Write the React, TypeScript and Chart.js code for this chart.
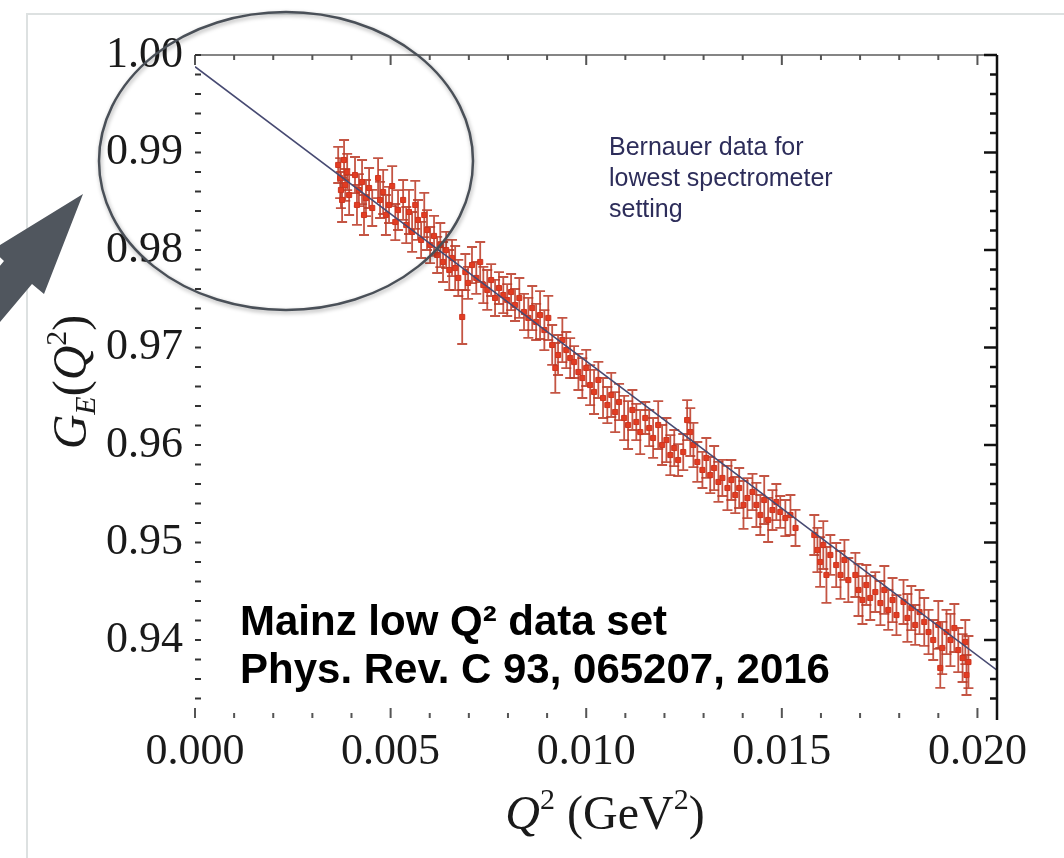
import React, { useEffect, useRef } from "react";
import { Chart, registerables } from "chart.js";

Chart.register(...registerables);

// ---------- data ----------
const Q2 = [
  0.00366, 0.00371, 0.00373, 0.00376, 0.00381, 0.00384, 0.00389, 0.00394,
  0.00409, 0.00414, 0.00419, 0.00427, 0.00432, 0.00437, 0.00445, 0.00453,
  0.00468, 0.00473, 0.00481, 0.00488, 0.00496, 0.00504, 0.00512, 0.00519,
  0.00532, 0.0054, 0.00547, 0.00555, 0.00563, 0.0057, 0.00578, 0.00586, 0.00593, 0.00601,
  0.00611, 0.00619, 0.00627, 0.00634, 0.00642, 0.0065, 0.00657, 0.00665, 0.00673, 0.00683, 0.00691, 0.00698,
  0.00708, 0.00719, 0.00729, 0.00737, 0.00747, 0.00757, 0.00767, 0.00777,
  0.00788, 0.00798, 0.00808, 0.00818, 0.00829, 0.00841, 0.00852, 0.00862, 0.00872, 0.00882, 0.00893,
  0.00903, 0.00913, 0.00921, 0.00928, 0.00939, 0.00949, 0.00959, 0.00969, 0.0098, 0.0099, 0.01, 0.0101, 0.0102, 0.01031,
  0.01043, 0.01054, 0.01064, 0.01074, 0.01084, 0.01097, 0.01107, 0.01118, 0.01128, 0.01138, 0.01151, 0.01161, 0.01171, 0.01184, 0.01194,
  0.01205, 0.01215, 0.01225, 0.01235, 0.01248, 0.01258, 0.01266, 0.01274, 0.01284,
  0.01297, 0.01307, 0.01317, 0.01327, 0.01338, 0.01348, 0.01361, 0.01371, 0.01381, 0.01391, 0.01402, 0.01412,
  0.01425, 0.01435, 0.01445, 0.01455, 0.01465, 0.01476, 0.01486, 0.01496, 0.01509, 0.01522, 0.01535,
  0.01583, 0.01591, 0.01598, 0.01606, 0.01614, 0.01624, 0.01639, 0.0165, 0.0166, 0.0167,
  0.01688, 0.01696, 0.01706, 0.01716, 0.01726, 0.01739, 0.01752, 0.01762, 0.01772, 0.01783, 0.01793,
  0.01811, 0.01821, 0.01831, 0.01841, 0.01852, 0.01864, 0.01875, 0.01887, 0.019, 0.0191,
  0.01921, 0.01931, 0.01941, 0.01951, 0.01962, 0.01969, 0.01977, 0.01905, 0.01972,
];

const GE = [
  0.98872, 0.98738, 0.98615, 0.98513, 0.98923, 0.98667, 0.988, 0.98564,
  0.98769, 0.98462, 0.98615, 0.98697, 0.98359, 0.98533, 0.98636, 0.98431,
  0.98738, 0.98513, 0.98595, 0.98359, 0.98462, 0.98656, 0.98287, 0.9841,
  0.98513, 0.98256, 0.9839, 0.98185, 0.98462, 0.98308, 0.98103, 0.98359, 0.98205, 0.98051,
  0.98144, 0.97949, 0.98051, 0.97877, 0.98, 0.97795, 0.97918, 0.97815, 0.97713, 0.97313, 0.97774, 0.97662,
  0.97846, 0.97713, 0.97877, 0.97641, 0.9759, 0.97692, 0.97508, 0.9761,
  0.97538, 0.97487, 0.97569, 0.97436, 0.97508, 0.97364, 0.97303, 0.97405, 0.97262, 0.97333, 0.97179,
  0.97303, 0.97026, 0.9679, 0.96923, 0.97077, 0.96974, 0.96892, 0.96851, 0.96749, 0.96687, 0.9679, 0.96615, 0.96544, 0.96667,
  0.96482, 0.9641, 0.96513, 0.96338, 0.96441, 0.96277, 0.96205, 0.96359, 0.96236, 0.96133, 0.96277, 0.96174, 0.96072, 0.96205, 0.96,
  0.96051, 0.95897, 0.95969, 0.95846, 0.95928, 0.96256, 0.96133, 0.96, 0.95826,
  0.95744, 0.95867, 0.95692, 0.95764, 0.95621, 0.95662, 0.95559, 0.95641, 0.95487, 0.95559, 0.95385, 0.95456,
  0.95518, 0.95385, 0.95282, 0.95436, 0.95231, 0.95333, 0.95415, 0.95313, 0.95251, 0.95282, 0.95149,
  0.95077, 0.94923, 0.948, 0.94974, 0.94667, 0.94872, 0.94769, 0.94667, 0.94821, 0.94615,
  0.94667, 0.94513, 0.9441, 0.94564, 0.94431, 0.94492, 0.94379, 0.94513, 0.94308, 0.9441, 0.94256,
  0.9439, 0.94226, 0.94328, 0.94154, 0.94287, 0.94185, 0.94082, 0.94, 0.94154, 0.93918,
  0.94082, 0.94, 0.94123, 0.93897, 0.93815, 0.93979, 0.93774, 0.93713, 0.93641,
];

const GE_ERR = [
  0.00185, 0.00205, 0.00185, 0.00226, 0.00205, 0.00164, 0.00185, 0.00205,
  0.00185, 0.00205, 0.00164, 0.00226, 0.00205, 0.00185, 0.00205, 0.00185,
  0.00205, 0.00185, 0.00226, 0.00205, 0.00185, 0.00205, 0.00185, 0.00205,
  0.00205, 0.00185, 0.00226, 0.00205, 0.00246, 0.00205, 0.00185, 0.00226, 0.00205, 0.00185,
  0.00205, 0.00185, 0.00226, 0.00205, 0.00185, 0.00205, 0.00185, 0.00226, 0.00185, 0.00277, 0.00185, 0.00164,
  0.00185, 0.00164, 0.00205, 0.00185, 0.00205, 0.00164, 0.00185, 0.00164,
  0.00185, 0.00164, 0.00185, 0.00164, 0.00205, 0.00185, 0.00205, 0.00226, 0.00185, 0.00246, 0.00205,
  0.00226, 0.00205, 0.00256, 0.00205, 0.00226, 0.00185, 0.00205, 0.00164, 0.00185, 0.00205, 0.00185, 0.00205, 0.00226, 0.00185,
  0.00205, 0.00185, 0.00226, 0.00205, 0.00185, 0.00226, 0.00246, 0.00205, 0.00185, 0.00226, 0.00164, 0.00185, 0.00205, 0.00246, 0.00205,
  0.00226, 0.00205, 0.00185, 0.00164, 0.00185, 0.00205, 0.00246, 0.00226, 0.00205,
  0.00185, 0.00205, 0.00185, 0.00226, 0.00205, 0.00185, 0.00226, 0.00205, 0.00185, 0.00205, 0.00246, 0.00205,
  0.00185, 0.00226, 0.00205, 0.00246, 0.00226, 0.00205, 0.00185, 0.00164, 0.00185, 0.00205, 0.00185,
  0.00205, 0.00226, 0.00256, 0.00246, 0.00287, 0.00205, 0.00226, 0.00246, 0.00205, 0.00226,
  0.00226, 0.00267, 0.00246, 0.00205, 0.00226, 0.00205, 0.00226, 0.00246, 0.00205, 0.00226, 0.00205,
  0.00226, 0.00246, 0.00226, 0.00205, 0.00226, 0.00246, 0.00226, 0.00205, 0.00246, 0.00267,
  0.00226, 0.00267, 0.00246, 0.00226, 0.00246, 0.00226, 0.00267, 0.00205, 0.00205,
];

const FIT_Q2 = [0, 0.005, 0.01, 0.015, 0.0205];
const FIT_GE = [0.9988, 0.9837, 0.9686, 0.9535, 0.9369];

const X_TICKS = [0, 0.005, 0.01, 0.015, 0.02];
const X_TICK_LABELS = ["0.000", "0.005", "0.010", "0.015", "0.020"];
const Y_TICKS = [0.94, 0.95, 0.96, 0.97, 0.98, 0.99, 1.0];
const Y_TICK_LABELS = ["0.94", "0.95", "0.96", "0.97", "0.98", "0.99", "1.00"];
const X_MIN = 0;
const X_MAX = 0.0205;
const Y_MIN = 0.932;
const Y_MAX = 1.0;
const X_MINOR_STEP = 0.001;
const Y_MINOR_STEP = 0.002;

const NOTE_LINES = ["Bernauer data for", "lowest spectrometer", "setting"];
const REF_LINES = ["Mainz low Q\u00B2 data set", "Phys. Rev. C 93, 065207, 2016"];

const SERIF = '"Liberation Serif", "Times New Roman", serif';
const SANS = '"Liberation Sans", Arial, sans-serif';

type Piece = { t: string; font: string; dy: number };

function drawPieces(ctx: CanvasRenderingContext2D, pieces: Piece[], x0: number, y0: number) {
  let x = x0;
  for (const p of pieces) {
    ctx.font = p.font;
    ctx.fillText(p.t, x, y0 + p.dy);
    x += ctx.measureText(p.t).width;
  }
}
function piecesWidth(ctx: CanvasRenderingContext2D, pieces: Piece[]) {
  let w = 0;
  for (const p of pieces) {
    ctx.font = p.font;
    w += ctx.measureText(p.t).width;
  }
  return w;
}

const errorBarPlugin = {
  id: "errorBars",
  beforeDatasetsDraw(chart: any) {
    const ctx = chart.ctx as CanvasRenderingContext2D;
    const ys = chart.scales.y;
    const meta = chart.getDatasetMeta(1);
    ctx.save();
    ctx.strokeStyle = "rgba(188,62,42,0.88)";
    ctx.lineWidth = 1.8;
    meta.data.forEach((el: any, i: number) => {
      const x = el.x;
      const yt = ys.getPixelForValue(GE[i] + GE_ERR[i]);
      const yb = ys.getPixelForValue(GE[i] - GE_ERR[i]);
      ctx.beginPath();
      ctx.moveTo(x, yt);
      ctx.lineTo(x, yb);
      ctx.moveTo(x - 5, yt);
      ctx.lineTo(x + 5, yt);
      ctx.moveTo(x - 5, yb);
      ctx.lineTo(x + 5, yb);
      ctx.stroke();
    });
    ctx.restore();
  },
};

const decorPlugin = {
  id: "decor",
  afterDraw(chart: any) {
    const ctx = chart.ctx as CanvasRenderingContext2D;
    const ca = chart.chartArea;
    const xs = chart.scales.x;
    const ys = chart.scales.y;
    ctx.save();

    // outer light frame
    ctx.strokeStyle = "#dde1e1";
    ctx.lineWidth = 2;
    ctx.beginPath();
    ctx.moveTo(27, 858);
    ctx.lineTo(27, 14);
    ctx.lineTo(1064, 14);
    ctx.stroke();

    // top axis line
    ctx.strokeStyle = "#858585";
    ctx.lineWidth = 2;
    ctx.beginPath();
    ctx.moveTo(ca.left, ca.top);
    ctx.lineTo(ca.right, ca.top);
    ctx.stroke();
    // right axis line
    ctx.strokeStyle = "#111";
    ctx.lineWidth = 2.5;
    ctx.beginPath();
    ctx.moveTo(ca.right, ca.top);
    ctx.lineTo(ca.right, ca.bottom + 2);
    ctx.stroke();

    // x ticks (top + bottom)
    const nx = Math.round((0.02 - X_MIN) / X_MINOR_STEP);
    for (let i = 0; i <= nx; i++) {
      const v = X_MIN + i * X_MINOR_STEP;
      const px = xs.getPixelForValue(v);
      const major = i % 5 === 0;
      const len = major ? 10 : 5;
      ctx.strokeStyle = "#555";
      ctx.lineWidth = 2;
      ctx.beginPath();
      ctx.moveTo(px, ca.top);
      ctx.lineTo(px, ca.top + len);
      ctx.moveTo(px, ca.bottom);
      ctx.lineTo(px, ca.bottom - len);
      ctx.stroke();
    }
    // y ticks (left + right)
    const k0 = Math.round(Y_MIN / Y_MINOR_STEP);
    const k1 = Math.round(Y_MAX / Y_MINOR_STEP);
    for (let k = k0 + 1; k <= k1; k++) {
      const v = k * Y_MINOR_STEP;
      const py = ys.getPixelForValue(v);
      const major = k % 5 === 0;
      ctx.strokeStyle = "#333";
      ctx.lineWidth = 2;
      ctx.beginPath();
      ctx.moveTo(ca.left, py);
      ctx.lineTo(ca.left + 6, py);
      ctx.stroke();
      ctx.strokeStyle = "#111";
      ctx.lineWidth = 2.5;
      ctx.beginPath();
      ctx.moveTo(ca.right, py);
      ctx.lineTo(ca.right - (major ? 13 : 7), py);
      ctx.stroke();
    }

    // axis titles
    ctx.fillStyle = "#1a1a1a";
    ctx.textBaseline = "alphabetic";
    ctx.textAlign = "left";
    const xt: Piece[] = [
      { t: "Q", font: `italic 48px ${SERIF}`, dy: 0 },
      { t: "2", font: `30px ${SERIF}`, dy: -20 },
      { t: " (GeV", font: `48px ${SERIF}`, dy: 0 },
      { t: "2", font: `30px ${SERIF}`, dy: -20 },
      { t: ")", font: `48px ${SERIF}`, dy: 0 },
    ];
    const xw = piecesWidth(ctx, xt);
    drawPieces(ctx, xt, 605 - xw / 2, 829);

    const yt: Piece[] = [
      { t: "G", font: `italic 48px ${SERIF}`, dy: 0 },
      { t: "E", font: `italic 30px ${SERIF}`, dy: 9 },
      { t: "(", font: `48px ${SERIF}`, dy: 0 },
      { t: "Q", font: `italic 48px ${SERIF}`, dy: 0 },
      { t: "2", font: `30px ${SERIF}`, dy: -20 },
      { t: ")", font: `48px ${SERIF}`, dy: 0 },
    ];
    const yw = piecesWidth(ctx, yt);
    ctx.save();
    ctx.translate(70, 382);
    ctx.rotate(-Math.PI / 2);
    drawPieces(ctx, yt, -yw / 2, 16);
    ctx.restore();

    // note text
    ctx.fillStyle = "#2d2d5a";
    ctx.font = `25px ${SANS}`;
    NOTE_LINES.forEach((s, i) => ctx.fillText(s, 609, 155 + i * 31));

    // reference text
    ctx.fillStyle = "#000";
    ctx.font = `bold 42px ${SANS}`;
    REF_LINES.forEach((s, i) => ctx.fillText(s, 240, 635 + i * 48));

    // ellipse annotation
    ctx.save();
    ctx.shadowColor = "rgba(0,0,0,0.35)";
    ctx.shadowBlur = 4;
    ctx.shadowOffsetX = 1;
    ctx.shadowOffsetY = 2;
    ctx.strokeStyle = "#4a5058";
    ctx.lineWidth = 2.5;
    ctx.beginPath();
    ctx.ellipse(286, 161, 187, 149, 0, 0, Math.PI * 2);
    ctx.stroke();
    ctx.restore();

    // arrow
    ctx.fillStyle = "#50565e";
    ctx.beginPath();
    ctx.moveTo(83, 194);
    ctx.lineTo(44, 294);
    ctx.lineTo(32, 284);
    ctx.lineTo(-26, 353);
    ctx.lineTo(-53, 330);
    ctx.lineTo(4, 261);
    ctx.lineTo(-8, 250);
    ctx.closePath();
    ctx.fill();

    ctx.restore();
  },
};

export default function App() {
  const ref = useRef<HTMLCanvasElement | null>(null);

  useEffect(() => {
    document.body.style.margin = "0";
    document.body.style.background = "#fff";
    const canvas = ref.current;
    if (!canvas) return;
    const chart = new Chart(canvas, {
      type: "scatter",
      data: {
        datasets: [
          {
            type: "line",
            label: "fit",
            data: FIT_Q2.map((x, i) => ({ x, y: FIT_GE[i] })),
            borderColor: "#474a72",
            borderWidth: 1.6,
            pointRadius: 0,
            tension: 0,
            order: 0,
          } as any,
          {
            type: "scatter",
            label: "data",
            data: Q2.map((x, i) => ({ x, y: GE[i] })),
            pointStyle: "rect",
            pointRadius: 3.6,
            backgroundColor: "#e23c22",
            borderColor: "#cf3620",
            borderWidth: 1,
            order: 1,
          } as any,
        ],
      },
      options: {
        responsive: false,
        animation: false,
        events: [],
        layout: { padding: { top: 55, right: 67, left: 0, bottom: 0 } },
        plugins: { legend: { display: false }, tooltip: { enabled: false } },
        scales: {
          x: {
            type: "linear",
            min: X_MIN,
            max: X_MAX,
            afterBuildTicks: (s: any) => {
              s.ticks = X_TICKS.map((v) => ({ value: v }));
            },
            afterFit: (s: any) => {
              s.height = 140;
            },
            grid: { display: false, drawTicks: false },
            border: { display: false },
            ticks: {
              padding: 8,
              autoSkip: false,
              maxRotation: 0,
              color: "#1a1a1a",
              font: { family: SERIF, size: 44 },
              callback: (_v: any, i: number) => X_TICK_LABELS[i],
            },
          },
          y: {
            type: "linear",
            min: Y_MIN,
            max: Y_MAX,
            afterBuildTicks: (s: any) => {
              s.ticks = Y_TICKS.map((v) => ({ value: v }));
            },
            afterFit: (s: any) => {
              s.width = 195;
            },
            grid: { display: false, drawTicks: false },
            border: { display: false },
            ticks: {
              padding: 12,
              autoSkip: false,
              color: "#1a1a1a",
              font: { family: SERIF, size: 44 },
              callback: (_v: any, i: number) => Y_TICK_LABELS[i],
            },
          },
        },
      } as any,
      plugins: [errorBarPlugin, decorPlugin],
    });
    return () => chart.destroy();
  }, []);

  return (
    <div style={{ width: 1064, height: 858, position: "relative", background: "#fff" }}>
      <canvas ref={ref} width={1064} height={858} style={{ display: "block" }} />
    </div>
  );
}
